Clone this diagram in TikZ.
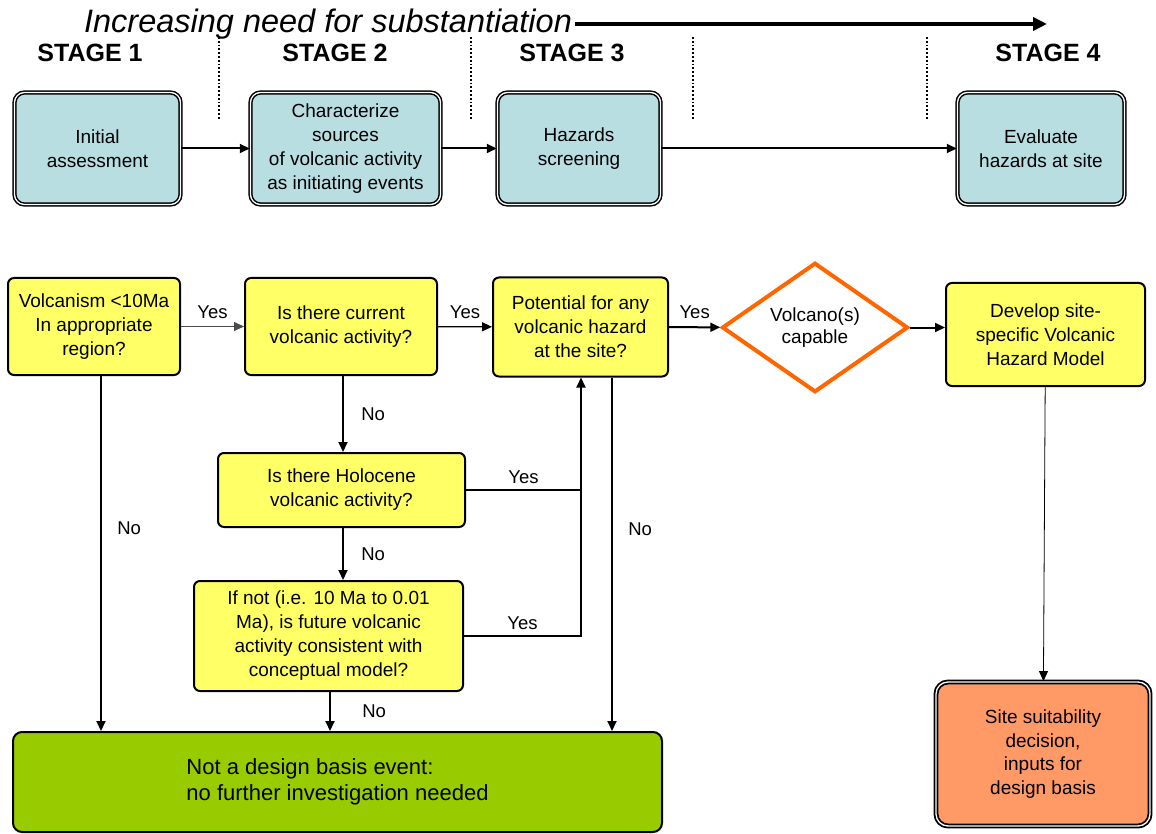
\documentclass[tikz,border=0pt]{standalone}
\usepackage{fontspec}
\setmainfont{Liberation Sans}
\usetikzlibrary{arrows.meta, positioning, shapes.geometric}
\definecolor{StageTeal}{RGB}{184,222,226}
\definecolor{AskYellow}{RGB}{255,255,102}
\definecolor{StopGreen}{RGB}{153,204,0}
\definecolor{SiteOrange}{RGB}{255,153,102}
\definecolor{CapOrange}{RGB}{255,102,0}

\begin{document}
\begin{tikzpicture}[x=1pt, y=-1pt,
  stagebox/.style={draw, double, line width=1.5pt, double distance=1.3pt,
                   fill=StageTeal, rounded corners=10pt, align=center,
                   minimum height=112, font=\fontsize{19}{24}\selectfont},
  stagelbl/.style={font=\fontsize{25}{28}\selectfont\bfseries},
  ask/.style={draw, line width=2pt, fill=AskYellow, rounded corners=6pt,
              align=center, inner sep=2pt, font=\fontsize{19}{24}\selectfont},
  capable/.style={diamond, draw=CapOrange, line width=4pt, fill=white,
                  minimum width=186, minimum height=117, inner sep=0pt,
                  align=center, font=\fontsize{19}{22}\selectfont},
  lbl/.style={text=black, font=\fontsize{18.5}{20}\selectfont},
  arr/.style={-{Triangle[length=10pt, width=9pt]}, line width=2pt},
  thinarr/.style={-{Triangle[length=10pt, width=9pt]}, line width=0.8pt},
]
\useasboundingbox (0,0) rectangle (1156,834);

% title and stage row
\node[font=\fontsize{32.5}{36}\selectfont\itshape] (need) at (328,24)
  {Increasing need for substantiation};
\coordinate (needend) at (1047,24);
\draw[-{Triangle[length=14pt, width=13pt]}, line width=4pt] (need.east) -- (needend);

\node[stagelbl] (lbl1) at (90,53) {STAGE 1};
\node[stagelbl] (lbl2) at (335,53) {STAGE 2};
\node[stagelbl] (lbl3) at (572,53) {STAGE 3};
\node[stagelbl] (lbl4) at (1048,53) {STAGE 4};

\foreach \x in {219,471,693,927}
  \draw[dotted, line width=1.8pt] (\x,37) -- (\x,120);

\node[stagebox, minimum width=166] (init) at (97.5,148.5) {Initial\\assessment};
\node[stagebox, minimum width=190] (sources) at (345.5,148.5)
  {Characterize\\sources\\of volcanic activity\\as initiating events};
\node[stagebox, minimum width=163] (screen) at (579,148.5) {Hazards\\screening};
\node[stagebox, minimum width=167] (evaluate) at (1041,148.5)
  {Evaluate\\hazards at site};

\draw[arr] (init) -- (sources);
\draw[arr] (sources) -- (screen);
\draw[arr] (screen) -- (evaluate);

% decision flow
\node[ask, minimum width=172, minimum height=97] (region) at (94,326.5)
  {Volcanism <10Ma\\In appropriate\\region?};
\node[ask, minimum width=192, minimum height=97] (current) at (341,326.5)
  {Is there current\\volcanic activity?};
\node[ask, minimum width=175, minimum height=99] (potential) at (580.5,327)
  {Potential for any\\volcanic hazard\\at the site?};
\node[capable] (volcano) at (815,327.5) {Volcano(s)\\capable};
\node[ask, minimum width=199, minimum height=103] (model) at (1045.5,334.5)
  {Develop site-\\specific Volcanic\\Hazard Model};
\node[ask, minimum width=247, minimum height=74] (holocene) at (341.5,490)
  {Is there Holocene\\volcanic activity?};
\node[ask, minimum width=269, minimum height=110] (future) at (328.5,636)
  {If not (i.e. 10 Ma to 0.01\\Ma), is future volcanic\\activity consistent with\\conceptual model?};
\node[draw, line width=2pt, fill=StopGreen, rounded corners=9pt, align=left,
      minimum width=649, minimum height=100, font=\fontsize{22}{26}\selectfont]
  (nodbe) at (337.5,782)
  {Not a design basis event:\\no further investigation needed};
\node[draw, double, line width=1.8pt, double distance=1.3pt, fill=SiteOrange,
      rounded corners=12pt, align=center, minimum width=214, minimum height=144,
      font=\fontsize{19}{23.5}\selectfont] (site) at (1043,754)
  {Site suitability\\decision,\\inputs for\\design basis};

\coordinate (yjoin) at (581,0);

\draw[thinarr, black!70] (region) -- node[lbl, above=4pt] {Yes} (current);
\draw[thinarr, line width=1.2pt] (current) -- node[lbl, above=4pt] {Yes} (potential);
\draw[arr] (potential) -- node[lbl, above=4pt] {Yes} (volcano);
\draw[arr] (volcano.east) -- (volcano.east -| model.west);
\draw[thinarr] (model) -- (site);

\draw[arr] ([xshift=7pt]region.south) --
  node[lbl, right=12pt, pos=0.43] {No} ([xshift=7pt]region.south |- nodbe.north);
\draw[arr] ([xshift=2pt]current.south) --
  node[lbl, right=14pt] {No} ([xshift=2pt]current.south |- holocene.north);
\draw[arr] ([xshift=1.5pt]holocene.south) --
  node[lbl, right=14pt] {No} ([xshift=1.5pt]holocene.south |- future.north);
\draw[arr] ([xshift=1.5pt]future.south) --
  node[lbl, right=28pt] {No} ([xshift=1.5pt]future.south |- nodbe.north);
\draw[arr] ([xshift=31.5pt]potential.south) --
  node[lbl, right=12pt, pos=0.43] {No} ([xshift=31.5pt]potential.south |- nodbe.north);

\draw[line width=1.5pt] (holocene.east) -- node[lbl, above=2pt] {Yes} (holocene.east -| yjoin);
\draw[arr] (future.east) -- node[lbl, above=2pt] {Yes} (future.east -| yjoin)
  -- (yjoin |- potential.south);
\end{tikzpicture}
\end{document}
